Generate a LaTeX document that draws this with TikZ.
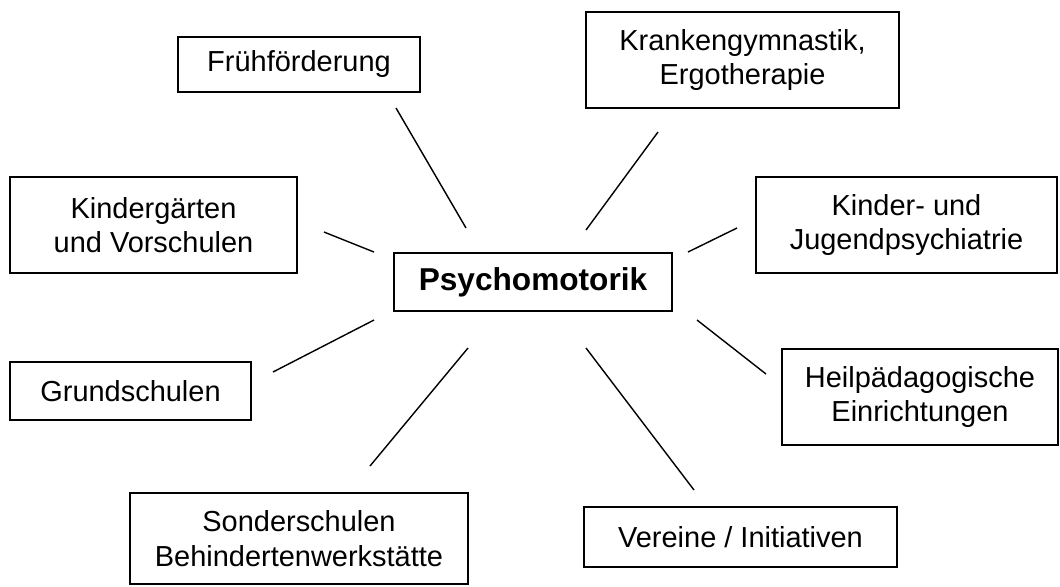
\documentclass[tikz,border=0pt]{standalone}
\usepackage{fontspec}
\setmainfont{Liberation Sans}
\usetikzlibrary{positioning}
\tikzset{
    every node/.append style={align=center},
    field/.style={rectangle,draw=black,line width=1.3pt,inner sep=0pt,
        font=\fontsize{20.6}{24.5}\selectfont},
    core/.style={field,font=\fontsize{22.5}{26}\selectfont\bfseries},
    spoke/.style={line width=1pt}
}
\begin{document}
\begin{tikzpicture}
    \useasboundingbox (0,0) rectangle (26.5,-14.65);
    \node[core,minimum width=6.95cm,minimum height=1.45cm]   (psy)     at (13.325,-7.05)  {Psychomotorik};
    \node[field,minimum width=6.05cm,minimum height=1.375cm] (fruh)    at (7.475,-1.6125) {Frühförderung};
    \node[field,minimum width=7.825cm,minimum height=2.4cm]  (kranken) at (18.5625,-1.5)  {Krankengymnastik,\\Ergotherapie};
    \node[field,minimum width=7.175cm,minimum height=2.4cm]  (kiga)    at (3.8375,-5.625) {Kindergärten\\und Vorschulen};
    \node[field,minimum width=7.525cm,minimum height=2.4cm]  (kinder)  at (22.6625,-5.625) {Kinder- und\\Jugendpsychiatrie};
    \node[field,minimum width=6.025cm,minimum height=1.45cm] (grund)   at (3.2625,-9.775) {Grundschulen};
    \node[field,minimum width=6.9cm,minimum height=2.4cm]    (heil)    at (23.0,-9.925)   {Heilpädagogische\\Einrichtungen};
    \node[field,minimum width=8.45cm,minimum height=2.275cm] (sonder)  at (7.475,-13.4625) {Sonderschulen\\Behindertenwerkstätte};
    \node[field,minimum width=7.825cm,minimum height=1.5cm]  (vereine) at (18.5125,-13.425) {Vereine / Initiativen};

    % spoke ends
    \coordinate (fruhEnd)    at (9.9,-2.7);    \coordinate (fruhHub)    at (11.65,-5.7);
    \coordinate (krankenEnd) at (16.45,-3.3);  \coordinate (krankenHub) at (14.65,-5.75);
    \coordinate (kigaEnd)    at (8.1,-5.8);    \coordinate (kigaHub)    at (9.35,-6.3);
    \coordinate (kinderEnd)  at (18.425,-5.7); \coordinate (kinderHub)  at (17.2,-6.3);
    \coordinate (grundEnd)   at (6.825,-9.3);  \coordinate (grundHub)   at (9.35,-8.0);
    \coordinate (heilEnd)    at (19.15,-9.35); \coordinate (heilHub)    at (17.425,-8.0);
    \coordinate (sonderEnd)  at (9.25,-11.65); \coordinate (sonderHub)  at (11.7,-8.7);
    \coordinate (vereineEnd) at (17.35,-12.25);\coordinate (vereineHub) at (14.65,-8.7);

    \draw[spoke] (fruhHub) -- (fruhEnd);
    \draw[spoke] (krankenHub) -- (krankenEnd);
    \draw[spoke] (kigaHub) -- (kigaEnd);
    \draw[spoke] (kinderHub) -- (kinderEnd);
    \draw[spoke] (grundHub) -- (grundEnd);
    \draw[spoke] (heilHub) -- (heilEnd);
    \draw[spoke] (sonderHub) -- (sonderEnd);
    \draw[spoke] (vereineHub) -- (vereineEnd);
\end{tikzpicture}
\end{document}
